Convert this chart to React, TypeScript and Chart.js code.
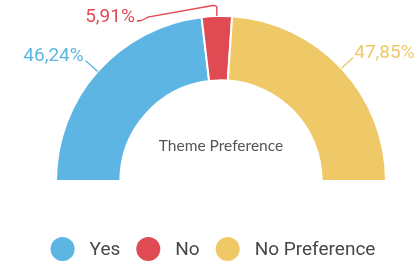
import React, { useEffect, useRef } from "react";
import { Chart, registerables } from "chart.js";

Chart.register(...registerables);

const categories = ["Yes", "No", "No Preference"];
const shares = [46.24, 5.91, 47.85];
const colors = ["#5DB5E4", "#E04A53", "#EFC967"];
const centerTitle = "Theme Preference";

const fmt = (v: number) => v.toFixed(2).replace(".", ",") + "%";

const outLabels = {
  id: "outLabels",
  afterDatasetsDraw(chart: any) {
    const ctx = chart.ctx as CanvasRenderingContext2D;
    const meta = chart.getDatasetMeta(0);
    const ds = chart.data.datasets[0];
    ctx.save();
    ctx.font = "19px Roboto";
    ctx.lineWidth = 1.4;
    meta.data.forEach((arc: any, i: number) => {
      const { x, y, startAngle, endAngle, outerRadius } = arc.getProps(
        ["x", "y", "startAngle", "endAngle", "outerRadius"],
        true
      );
      const mid = (startAngle + endAngle) / 2;
      const c = Math.cos(mid);
      const s = Math.sin(mid);
      const ax = x + c * outerRadius;
      const ay = y + s * outerRadius;
      const color = (ds.backgroundColor as string[])[i];
      const text = fmt(ds.data[i] as number);
      ctx.strokeStyle = color;
      ctx.fillStyle = color;
      const small = endAngle - startAngle < 0.3;
      if (!small) {
        const ex = ax + c * 16;
        const ey = ay + s * 16;
        ctx.beginPath();
        ctx.moveTo(ax, ay);
        ctx.lineTo(ex, ey);
        ctx.stroke();
        ctx.textBaseline = "alphabetic";
        if (c < 0) {
          ctx.textAlign = "right";
          ctx.fillText(text, ex - 2, ey);
        } else {
          ctx.textAlign = "left";
          ctx.fillText(text, ex + 1, ey + 1);
        }
      } else {
        const topY = ay - 11;
        ctx.beginPath();
        ctx.moveTo(ax, ay);
        ctx.lineTo(ax, topY + 3);
        ctx.quadraticCurveTo(ax, topY, ax - 4, topY + 0.5);
        ctx.lineTo(ax - 69, topY + 12);
        ctx.quadraticCurveTo(ax - 74, topY + 16, ax - 80, topY + 16);
        ctx.stroke();
        ctx.textAlign = "right";
        ctx.textBaseline = "alphabetic";
        ctx.fillText(text, ax - 82, topY + 17);
      }
    });
    // center title
    const a0 = meta.data[0];
    ctx.fillStyle = "#555555";
    ctx.font = "15.5px Lato";
    ctx.textAlign = "center";
    ctx.textBaseline = "alphabetic";
    ctx.fillText(centerTitle, a0.x, a0.y - 30);
    ctx.restore();
  },
  afterDraw(chart: any) {
    const ctx = chart.ctx as CanvasRenderingContext2D;
    const ds = chart.data.datasets[0];
    const labels = chart.data.labels as string[];
    ctx.save();
    ctx.font = "19px Roboto";
    const r = 12;
    const gap = 15;
    const sep = 16;
    const widths = labels.map((l) => ctx.measureText(l).width);
    const total =
      widths.reduce((a, w) => a + 2 * r + gap + w, 0) + sep * (labels.length - 1);
    let cx = chart.width / 2 + 4 - total / 2;
    const cy = 249;
    labels.forEach((l, i) => {
      ctx.fillStyle = (ds.backgroundColor as string[])[i];
      ctx.beginPath();
      ctx.arc(cx + r, cy, r, 0, Math.PI * 2);
      ctx.fill();
      ctx.fillStyle = "#474747";
      ctx.textAlign = "left";
      ctx.textBaseline = "middle";
      ctx.fillText(l, cx + 2 * r + gap, cy + 1);
      cx += 2 * r + gap + widths[i] + sep;
    });
    ctx.restore();
  },
};

export default function App() {
  const ref = useRef<HTMLCanvasElement | null>(null);
  useEffect(() => {
    document.body.style.margin = "0";
    const chart = new Chart(ref.current as HTMLCanvasElement, {
      type: "doughnut",
      data: {
        labels: categories,
        datasets: [
          {
            data: shares,
            backgroundColor: colors,
            borderColor: "#ffffff",
            borderWidth: 2,
            hoverOffset: 0,
          },
        ],
      },
      options: {
        responsive: false,
        animation: false,
        rotation: -90,
        circumference: 180,
        cutout: "61%",
        layout: { padding: { left: 54, right: 30, top: 15, bottom: 82 } },
        plugins: {
          legend: { display: false },
          tooltip: { enabled: false },
        },
      },
      plugins: [outLabels],
    });
    return () => chart.destroy();
  }, []);
  return (
    <div style={{ width: 418, height: 264 }}>
      <canvas ref={ref} width={418} height={264} />
    </div>
  );
}
